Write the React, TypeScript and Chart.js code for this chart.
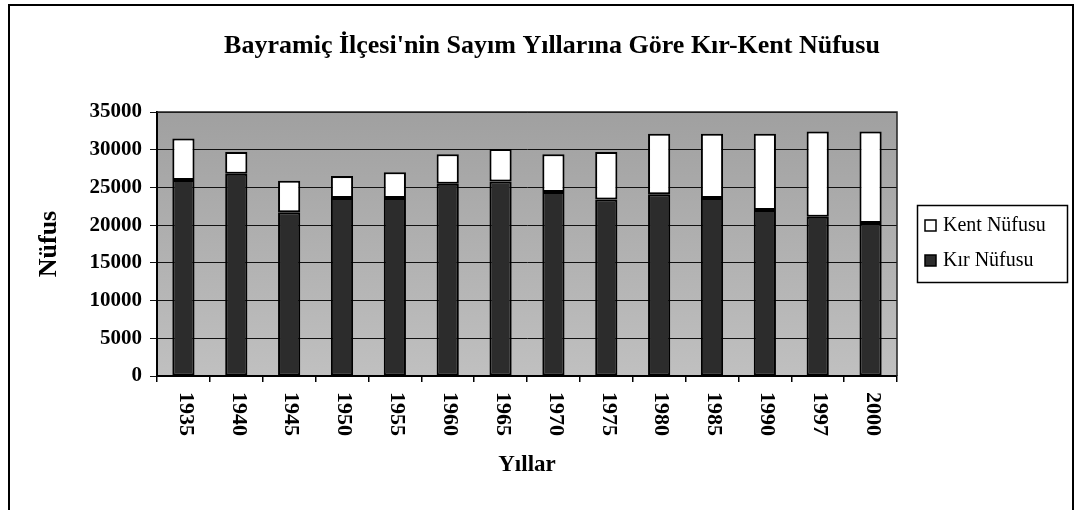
import React, { useEffect, useRef } from "react";
import { Chart, registerables } from "chart.js";

Chart.register(...registerables);

const years = ["1935", "1940", "1945", "1950", "1955", "1960", "1965", "1970", "1975", "1980", "1985", "1990", "1997", "2000"];
const kirNufusu = [26000, 26800, 21700, 23600, 23600, 25500, 25800, 24400, 23400, 24100, 23600, 22000, 21100, 20300];
const kentNufusu = [5500, 2900, 4200, 2900, 3400, 3900, 4300, 5000, 6300, 8000, 8500, 10100, 11300, 12100];
const yTicks = [0, 5000, 10000, 15000, 20000, 25000, 30000, 35000];
const chartTitle = "Bayramiç İlçesi'nin Sayım Yıllarına Göre Kır-Kent Nüfusu";
const xTitle = "Yıllar";
const yTitle = "Nüfus";
const legendOrder = ["Kent Nüfusu", "Kır Nüfusu"];

const SERIF = "'Liberation Serif', 'Times New Roman', serif";
const DARK = "#2c2c2c";

const decor = {
  id: "decor",
  beforeDraw(chart: any) {
    const { ctx, chartArea: a, width, height } = chart;
    ctx.save();
    ctx.fillStyle = "#ffffff";
    ctx.fillRect(0, 0, width, height);
    ctx.strokeStyle = "#000";
    ctx.lineWidth = 2;
    ctx.beginPath();
    ctx.moveTo(9, height);
    ctx.lineTo(9, 5);
    ctx.lineTo(1073, 5);
    ctx.lineTo(1073, height);
    ctx.stroke();
    const g = ctx.createLinearGradient(0, a.top, 0, a.bottom);
    g.addColorStop(0, "#a0a0a0");
    g.addColorStop(1, "#c0c0c0");
    ctx.fillStyle = g;
    ctx.fillRect(a.left, a.top, a.right - a.left, a.bottom - a.top);
    ctx.restore();
  },
  afterDatasetsDraw(chart: any) {
    const { ctx, chartArea: a } = chart;
    ctx.save();
    ctx.strokeStyle = "#222";
    ctx.lineWidth = 1.5;
    ctx.beginPath();
    ctx.moveTo(a.left, a.top);
    ctx.lineTo(a.right, a.top);
    ctx.lineTo(a.right, a.bottom);
    ctx.stroke();
    ctx.restore();
  },
  afterDraw(chart: any) {
    const { ctx } = chart;
    const xs = chart.scales.x;
    ctx.save();
    // title
    ctx.fillStyle = "#000";
    ctx.font = `bold 26px ${SERIF}`;
    ctx.textAlign = "center";
    ctx.textBaseline = "middle";
    ctx.fillText(chartTitle, 552, 46);
    // x tick labels rotated clockwise
    ctx.font = `bold 22px ${SERIF}`;
    ctx.textAlign = "left";
    years.forEach((y, i) => {
      const px = xs.getPixelForValue(i);
      ctx.save();
      ctx.translate(px + 2, 392);
      ctx.rotate(Math.PI / 2);
      ctx.fillText(y, 0, 0);
      ctx.restore();
    });
    // legend
    ctx.strokeStyle = "#000";
    ctx.lineWidth = 1.5;
    ctx.strokeRect(917.5, 205.5, 150, 77);
    const ds = chart.data.datasets;
    legendOrder.forEach((label, i) => {
      const d = ds.find((x: any) => x.label === label);
      const cy = 225 + i * 35;
      ctx.fillStyle = d.backgroundColor;
      ctx.fillRect(925, cy - 5, 11, 11);
      ctx.lineWidth = 1.5;
      ctx.strokeStyle = "#000";
      ctx.strokeRect(925, cy - 5, 11, 11);
      ctx.fillStyle = "#000";
      ctx.font = `20px ${SERIF}`;
      ctx.textAlign = "left";
      ctx.textBaseline = "middle";
      ctx.fillText(label, 943, cy + 1);
    });
    ctx.restore();
  },
};

export default function App() {
  const ref = useRef<HTMLCanvasElement | null>(null);
  useEffect(() => {
    if (!ref.current) return;
    const chart = new Chart(ref.current, {
      type: "bar",
      data: {
        labels: years,
        datasets: [
          {
            label: "Kır Nüfusu",
            data: kirNufusu,
            backgroundColor: DARK,
            borderColor: "#000",
            borderWidth: 2,
            borderSkipped: false,
            barPercentage: 0.42,
            categoryPercentage: 1,
          },
          {
            label: "Kent Nüfusu",
            data: kentNufusu,
            backgroundColor: "#ffffff",
            borderColor: "#000",
            borderWidth: 2,
            borderSkipped: false,
            barPercentage: 0.42,
            categoryPercentage: 1,
          },
        ],
      },
      options: {
        responsive: false,
        animation: false,
        layout: { padding: { top: 112, right: 178, left: 0, bottom: 24 } },
        plugins: {
          legend: { display: false },
          title: { display: false },
          tooltip: { enabled: false },
        },
        scales: {
          x: {
            stacked: true,
            offset: true,
            grid: {
              display: true,
              offset: true,
              drawOnChartArea: false,
              drawTicks: true,
              tickLength: 6,
              color: "#000",
              lineWidth: 1.5,
            },
            border: { display: true, color: "#000", width: 2 },
            ticks: { display: false },
            title: {
              display: true,
              text: xTitle,
              color: "#000",
              font: { family: SERIF, size: 23, weight: "bold" },
              padding: { top: 0, bottom: 7 },
            },
            afterFit: (s: any) => {
              s.height = 110;
            },
          },
          y: {
            stacked: true,
            min: 0,
            max: 35000,
            afterBuildTicks: (s: any) => {
              s.ticks = yTicks.map((v) => ({ value: v }));
            },
            grid: {
              color: "#111",
              lineWidth: 1,
              drawTicks: true,
              tickLength: 7,
            },
            border: { display: true, color: "#000", width: 2 },
            ticks: {
              color: "#000",
              padding: 8,
              font: { family: SERIF, size: 21, weight: "bold" },
              callback: (v: any) => String(v),
            },
            title: {
              display: true,
              text: yTitle,
              color: "#000",
              font: { family: SERIF, size: 26, weight: "bold" },
              padding: { top: 34, bottom: 0 },
            },
            afterFit: (s: any) => {
              s.width = 157;
            },
          },
        },
      },
      plugins: [decor],
    });
    return () => chart.destroy();
  }, []);
  return (
    <div style={{ position: "absolute", left: 0, top: 0, width: 1075, height: 510 }}>
      <canvas ref={ref} width={1075} height={510} style={{ display: "block", width: 1075, height: 510 }} />
    </div>
  );
}
